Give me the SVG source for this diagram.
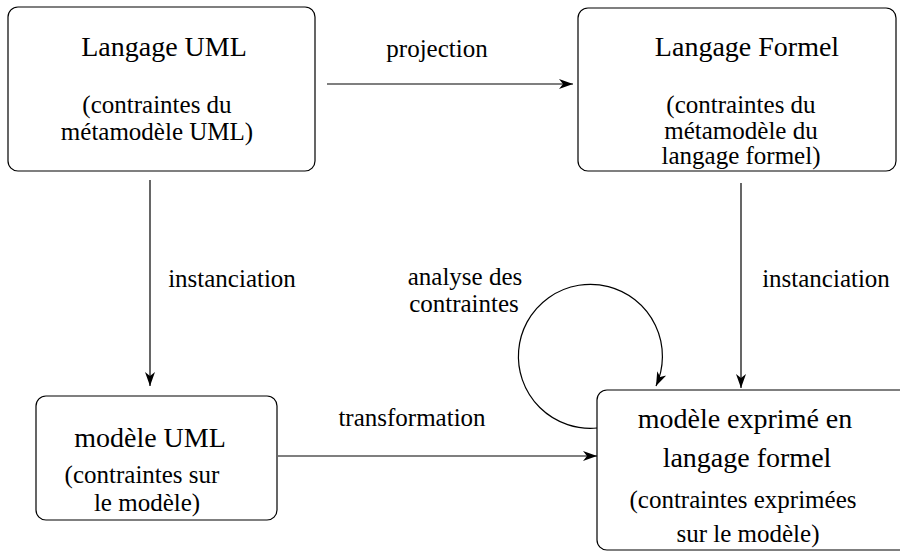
<svg xmlns="http://www.w3.org/2000/svg" width="900" height="553" viewBox="0 0 900 553" font-family="'Liberation Serif', 'Times New Roman', Times, serif">
<style>
text{font-family:'Liberation Serif','Times New Roman',Times,serif;fill:#000;text-anchor:middle}
.box{fill:#fff;stroke:#000;stroke-width:1.2}
.h{font-size:28px}
.s{font-size:25px}
.l{font-size:25px}
.c{fill:none;stroke:#000;stroke-width:1.2}
</style>
<defs>
<marker id="ah" viewBox="0 0 14 10" refX="14" refY="5" markerWidth="14" markerHeight="10" markerUnits="userSpaceOnUse" orient="auto">
<path d="M0,0 L14,5 L0,10 L4,5 z" fill="#000"/>
</marker>
</defs>
<rect width="900" height="553" fill="#fff"/>
<g id="connectors">
<line class="c" x1="327" y1="84" x2="573" y2="84" marker-end="url(#ah)"/>
<line class="c" x1="150" y1="180" x2="150" y2="386" marker-end="url(#ah)"/>
<line class="c" x1="741" y1="183" x2="741" y2="388" marker-end="url(#ah)"/>
<line class="c" x1="278" y1="456" x2="597" y2="456" marker-end="url(#ah)"/>
<path class="c" d="M597,428 A72,72 0 1 1 656,386" marker-end="url(#ah)"/>
<text class="l" x="437" y="57">projection</text>
<text class="l" x="232" y="287">instanciation</text>
<text class="l" x="826" y="287">instanciation</text>
<text class="l" x="465" y="285">analyse des</text>
<text class="l" x="464" y="312">contraintes</text>
<text class="l" x="412" y="426">transformation</text>
</g>
<g id="langage-uml">
<rect class="box" x="8" y="7" width="307" height="164" rx="10"/>
<text class="h" x="164" y="56">Langage UML</text>
<text class="s" x="157" y="113">(contraintes du</text>
<text class="s" x="157" y="140">métamodèle UML)</text>
</g>
<g id="langage-formel">
<rect class="box" x="578" y="8" width="318" height="163" rx="10"/>
<text class="h" x="747" y="56">Langage Formel</text>
<text class="s" x="741" y="113">(contraintes du</text>
<text class="s" x="741" y="139">métamodèle du</text>
<text class="s" x="741" y="164">langage formel)</text>
</g>
<g id="modele-uml">
<rect class="box" x="36" y="396" width="241" height="124" rx="10"/>
<text class="h" x="150" y="447">modèle UML</text>
<text class="s" x="142" y="483">(contraintes sur</text>
<text class="s" x="147" y="511">le modèle)</text>
</g>
<g id="modele-formel">
<rect class="box" x="597" y="390" width="320" height="160" rx="10"/>
<text class="h" x="745" y="428">modèle exprimé en</text>
<text class="h" x="747" y="467">langage formel</text>
<text class="s" x="743" y="508">(contraintes exprimées</text>
<text class="s" x="748" y="542">sur le modèle)</text>
</g>
</svg>
